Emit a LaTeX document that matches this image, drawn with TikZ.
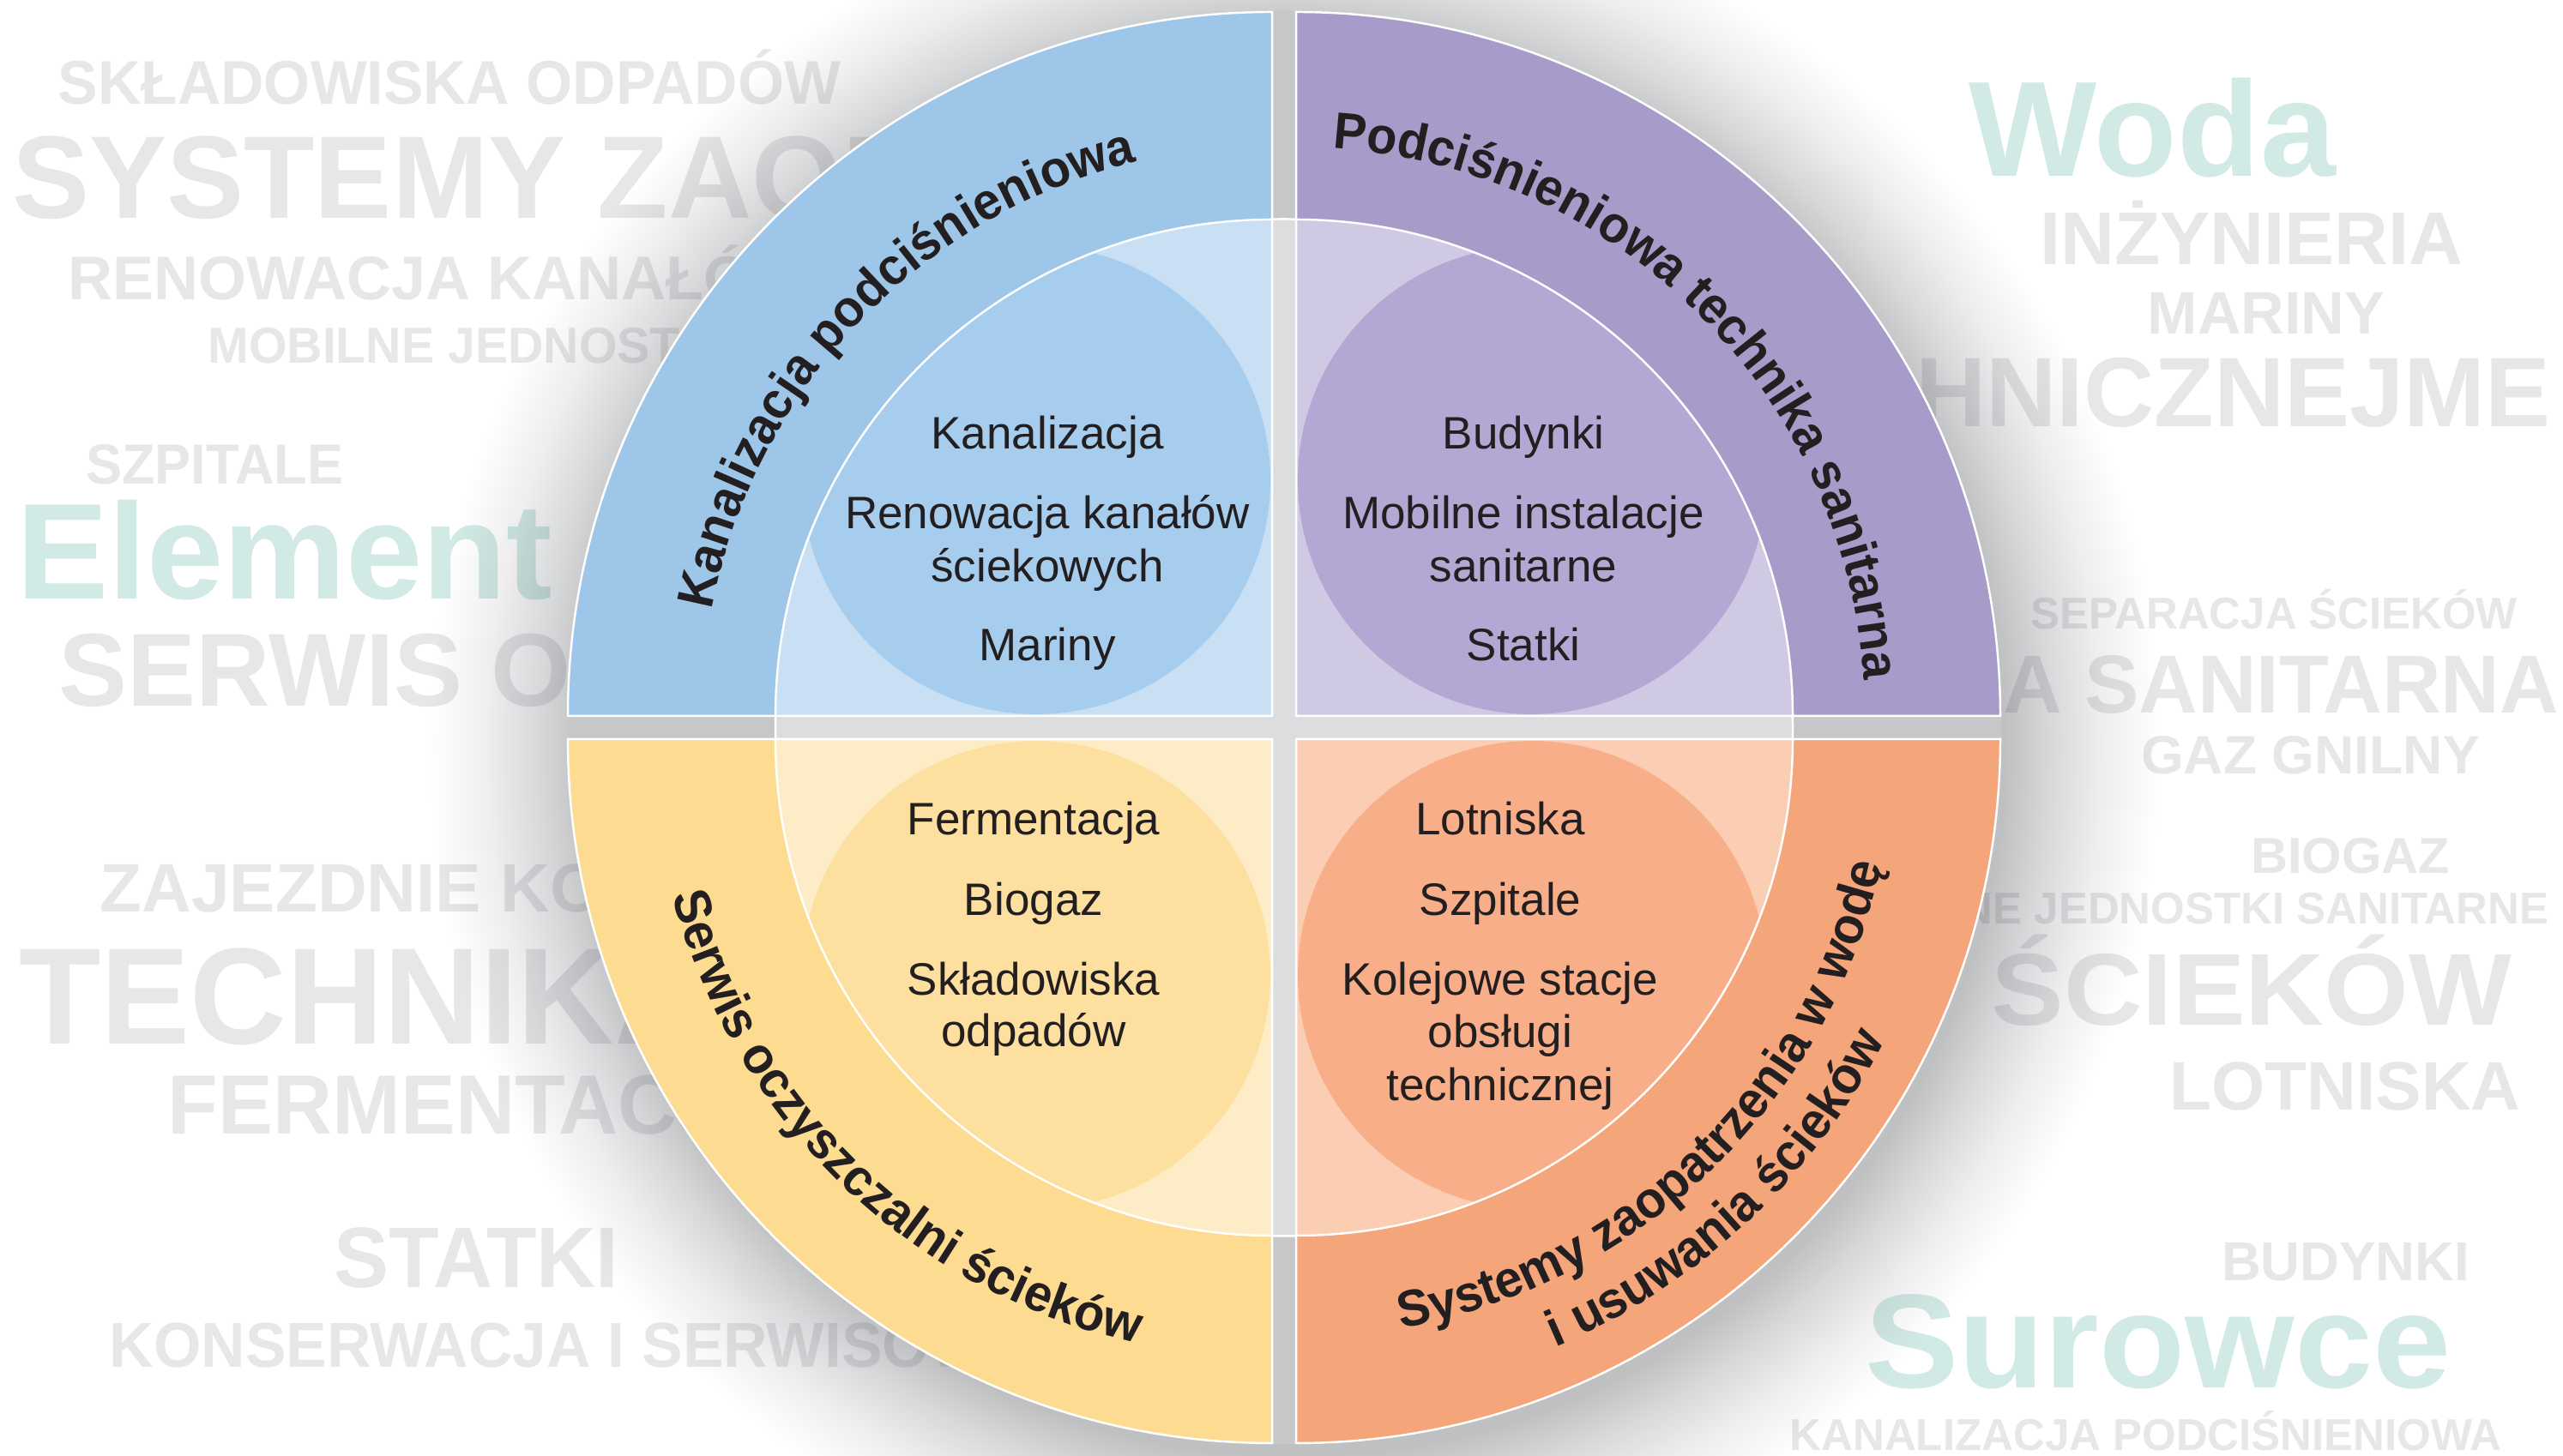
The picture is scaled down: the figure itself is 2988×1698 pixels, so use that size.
\documentclass[tikz,border=0pt]{standalone}
\usepackage{fontspec}
\setmainfont{Liberation Sans}
\newfontfamily\bgfont{Liberation Sans}
\newfontfamily\arcfont{Liberation Sans}[FakeStretch=0.96]
\usepackage{graphicx}
\usetikzlibrary{decorations.text}

\definecolor{bggray}{HTML}{E6E7E8}
\definecolor{bgteal}{HTML}{D2EAE5}
\definecolor{txt}{HTML}{231F20}
\definecolor{shd}{HTML}{BFC0C2}
\definecolor{shm}{HTML}{D7D8DA}
\definecolor{shl}{HTML}{EEEEEF}
\definecolor{gapout}{HTML}{C6C7C9}
\definecolor{gapin}{HTML}{DCDDDF}
\definecolor{blueout}{HTML}{9DC6E9}
\definecolor{bluein}{HTML}{C9DFF3}
\definecolor{bluecirc}{HTML}{A7CDEE}
\definecolor{purpout}{HTML}{A79BC9}
\definecolor{purpin}{HTML}{D0C9E4}
\definecolor{purpcirc}{HTML}{B3A8D3}
\definecolor{yelout}{HTML}{FDDC92}
\definecolor{yelin}{HTML}{FEECC6}
\definecolor{yelcirc}{HTML}{FDE0A0}
\definecolor{orout}{HTML}{F5A57A}
\definecolor{orin}{HTML}{FBCEB3}
\definecolor{orcirc}{HTML}{F8AF89}

\pgfdeclareradialshading{discshadow}{\pgfpoint{0bp}{0bp}}{color(0bp)=(shd); color(20.5bp)=(shd); color(21.8bp)=(shm); color(23.3bp)=(shl); color(25bp)=(white); color(50bp)=(white)}

% background words: name, x (ink edge), baseline y (px from top), font px, xscale, colour, text
\newcommand\bgwl[7]{%
  \pgfmathsetmacro\bgfs{#4*0.284528}%
  \node[inner sep=0pt, anchor=base west, text=#6] (#1) at ({#2-0.04*#4*#5},{1698-#3})
    {\bgfont\bfseries\fontsize{\bgfs pt}{\bgfs pt}\selectfont\scalebox{#5}[1]{#7}};}
\newcommand\bgwr[7]{%
  \pgfmathsetmacro\bgfs{#4*0.284528}%
  \node[inner sep=0pt, anchor=base east, text=#6] (#1) at ({#2+0.04*#4*#5},{1698-#3})
    {\bgfont\bfseries\fontsize{\bgfs pt}{\bgfs pt}\selectfont\scalebox{#5}[1]{#7}};}

% quadrant: corner, start angle, outer, inner, circle colour
\newcommand\quadrant[5]{%
  \begin{scope}[shift={#1}]
    \fill[#3] (0,0) -- (#2:821) arc[start angle=#2, delta angle=90, radius=821] -- cycle;
    \begin{scope}
      \clip (0,0) -- (#2:579) arc[start angle=#2, delta angle=90, radius=579] -- cycle;
      \fill[#4] (0,0) circle (600);
      \fill[#5] ({#2+45}:389) circle (273);
    \end{scope}
    \draw[white, line width=0.7pt] (#2:579) arc[start angle=#2, delta angle=90, radius=579];
    \draw[white, line width=0.7pt] (0,0) -- (#2:821) arc[start angle=#2, delta angle=90, radius=821] -- cycle;
  \end{scope}}

\tikzset{intext/.style={font=\fontsize{15.08pt}{18pt}\selectfont, text=txt, inner sep=0pt, anchor=base}}

\begin{document}
\begin{tikzpicture}[x=0.01cm, y=0.01cm]
\useasboundingbox (0,0) rectangle (2988,1698);
\fill[white] (0,0) rectangle (2988,1698);

% ---- background words, left
\bgwl{w1}{70}{122}{72}{0.967}{bggray}{SKŁADOWISKA ODPADÓW}
\bgwl{w2}{19}{255}{137}{0.985}{bggray}{SYSTEMY ZAOPATRZENIA}
\bgwl{w3}{82}{350}{72}{1.0}{bggray}{RENOWACJA KANAŁÓW}
\bgwl{w4}{244}{424}{59}{0.97}{bggray}{MOBILNE JEDNOSTKI SANITARNE}
\bgwl{w5}{102}{565}{66}{0.955}{bggray}{SZPITALE}
\bgwl{w6}{25}{699}{159}{1.01}{bgteal}{Element}
\bgwl{w7}{73}{824}{121}{0.99}{bggray}{SERWIS OCZYSZCZALNI}
\bgwl{w8}{119}{1064}{80}{1.0}{bggray}{ZAJEZDNIE KOLEJOWE}
\bgwl{w9}{28}{1218}{160}{0.975}{bggray}{TECHNIKA}
\bgwl{w10}{199}{1323}{98}{0.977}{bggray}{FERMENTACJA}
\bgwl{w11}{393}{1502}{100}{0.957}{bggray}{STATKI}
\bgwl{w12}{130}{1595}{74}{0.963}{bggray}{KONSERWACJA I SERWISOWANIE}
% ---- background words, right
\bgwl{w13}{2301}{205.5}{158}{1.0}{bgteal}{Woda}
\bgwl{w14}{2381}{309}{87}{1.0}{bggray}{INŻYNIERIA}
\bgwl{w15}{2506}{390}{70}{1.0}{bggray}{MARINY}
\bgwr{w16}{2970}{498}{115}{0.99}{bggray}{TECHNICZNEJME}
\bgwl{w17}{2369}{734}{52}{0.978}{bggray}{SEPARACJA ŚCIEKÓW}
\bgwr{w18}{2980}{832}{96}{0.99}{bggray}{TECHNIKA SANITARNA}
\bgwl{w19}{2498}{903}{63}{1.015}{bggray}{GAZ GNILNY}
\bgwl{w20}{2626}{1019}{59}{1.01}{bggray}{BIOGAZ}
\bgwr{w21}{2970}{1078}{52}{0.98}{bggray}{MOBILNE JEDNOSTKI SANITARNE}
\bgwl{w22}{2326}{1196}{119}{1.066}{bggray}{ŚCIEKÓW}
\bgwl{w23}{2532}{1295}{80}{1.0}{bggray}{LOTNISKA}
\bgwl{w24}{2592}{1494}{64}{0.99}{bggray}{BUDYNKI}
\bgwl{w25}{2180}{1619}{156}{1.05}{bgteal}{Surowce}
\bgwl{w26}{2088}{1692}{52}{0.98}{bggray}{KANALIZACJA PODCIŚNIENIOWA}

% ---- soft shadow
\begin{scope}[blend mode=multiply]
  \shade[shading=discshadow] (1509,829.5) circle (1010);
\end{scope}

% ---- disc underlay (gaps)
\fill[gapout] (1497,849.5) circle (836);
\fill[gapin] (1497,849.5) circle (593);
\draw[white, line width=0.7pt] (1497,849.5) circle (593);

% ---- quadrants
\quadrant{(1483,863)}{90}{blueout}{bluein}{bluecirc}
\quadrant{(1511,863)}{0}{purpout}{purpin}{purpcirc}
\quadrant{(1483,836)}{180}{yelout}{yelin}{yelcirc}
\quadrant{(1511,836)}{270}{orout}{orin}{orcirc}

% ---- inner texts
\node[intext] (b1) at (1221,1174) {Kanalizacja};
\node[intext] (b2) at (1221,1081) {Renowacja kanałów};
\node[intext] (b3) at (1221,1019) {ściekowych};
\node[intext] (b4) at (1221,927) {Mariny};

\node[intext] (p1) at (1776,1174) {Budynki};
\node[intext] (p2) at (1776,1081) {Mobilne instalacje};
\node[intext] (p3) at (1776,1019) {sanitarne};
\node[intext] (p4) at (1776,927) {Statki};

\node[intext] (y1) at (1205,724) {Fermentacja};
\node[intext] (y2) at (1205,630) {Biogaz};
\node[intext] (y3) at (1205,537) {Składowiska};
\node[intext] (y4) at (1205,477) {odpadów};

\node[intext] (o1) at (1749,724) {Lotniska};
\node[intext] (o2) at (1749,630) {Szpitale};
\node[intext] (o3) at (1749,537) {Kolejowe stacje};
\node[intext] (o4) at (1749,476) {obsługi};
\node[intext] (o5) at (1749,414) {technicznej};

% ---- curved band labels
\path[shift={(1483,863)}, decorate, decoration={text along path, text align=center,
  text={|\arcfont\bfseries\fontsize{17.07pt}{20pt}\selectfont\color{txt}|Kanalizacja podciśnieniowa}}]
  (196.5:665) arc[start angle=196.5, end angle=76.5, radius=665];
\path[shift={(1511,863)}, decorate, decoration={text along path, text align=center,
  text={|\arcfont\bfseries\fontsize{17.07pt}{20pt}\selectfont\color{txt}|Podciśnieniowa technika sanitarna}}]
  (105:663) arc[start angle=105, end angle=-15, radius=663];
\path[shift={(1483,836)}, decorate, decoration={text along path, text align=center,
  text={|\arcfont\bfseries\fontsize{17.07pt}{20pt}\selectfont\color{txt}|Serwis oczyszczalni ścieków}}]
  (166:722) arc[start angle=166, end angle=286, radius=722];
\path[shift={(1511,836)}, decorate, decoration={text along path, text align=center,
  text={|\arcfont\bfseries\fontsize{17.07pt}{20pt}\selectfont\color{txt}|Systemy zaopatrzenia w wodę}}]
  (-106:698) arc[start angle=-106, end angle=14, radius=698];
\path[shift={(1511,836)}, decorate, decoration={text along path, text align=center,
  text={|\arcfont\bfseries\fontsize{17.07pt}{20pt}\selectfont\color{txt}|i usuwania ścieków}}]
  (-107:771) arc[start angle=-107, end angle=13, radius=771];
\end{tikzpicture}
\end{document}
